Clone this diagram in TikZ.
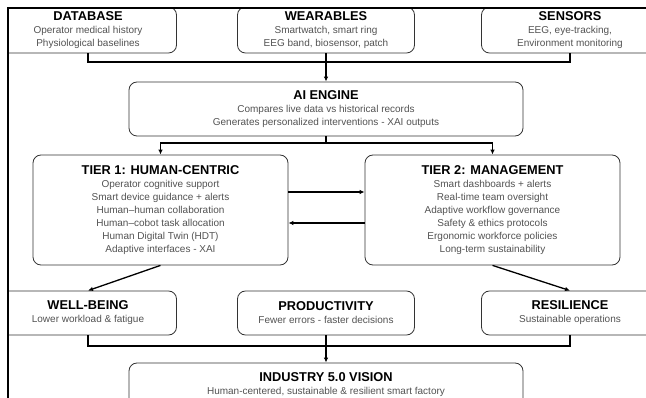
\documentclass[tikz,border=0pt]{standalone}
\usepackage{fontspec}
\setmainfont{Liberation Sans}
\usetikzlibrary{arrows.meta}

\newcommand{\boxtitle}[1]{{\fontsize{12.8}{14}\selectfont\bfseries\textcolor{black}{#1}}}

\begin{document}
\begin{tikzpicture}[x=1pt,y=-1pt,>={Latex[length=5pt,width=4.5pt]}]
\tikzstyle{every node}=[inner sep=0pt, align=center, text=black!68, font=\fontsize{10}{13}\selectfont]
\tikzstyle{box}=[draw=black!80, line width=0.8pt, rounded corners=8pt]
\tikzstyle{side}=[box, minimum width=177pt]
\tikzstyle{wide}=[box, minimum width=394pt]
\tikzstyle{tier}=[box, minimum width=255pt, minimum height=108pt]
\tikzstyle{link}=[line width=1.3pt, black]
\useasboundingbox (0,0) rectangle (646,398);
\begin{scope}
\clip (8,8) rectangle (646,398);
% sources
\draw (88,30) node (db) [side, minimum height=46pt] {\boxtitle{DATABASE}\\Operator medical history\\Physiological baselines};
\draw (326,30) node (wear) [side, minimum height=46pt] {\boxtitle{WEARABLES}\\Smartwatch, smart ring\\EEG band, biosensor, patch};
\draw (570,30) node (sens) [side, minimum height=46pt] {\boxtitle{SENSORS}\\EEG, eye-tracking,\\Environment monitoring};
% engine
\draw (326,109) node (ai) [wide, minimum height=54pt] {\boxtitle{AI ENGINE}\\Compares live data vs historical records\\Generates personalized interventions - XAI outputs};
% tiers
\draw (160.5,210) node (t1) [tier, minimum height=110pt] {\boxtitle{TIER 1: HUMAN-CENTRIC}\\Operator cognitive support\\Smart device guidance + alerts\\Human--human collaboration\\Human--cobot task allocation\\Human Digital Twin (HDT)\\Adaptive interfaces - XAI};
\draw (492.5,210) node (t2) [tier, minimum height=110pt] {\boxtitle{TIER 2: MANAGEMENT}\\Smart dashboards + alerts\\Real-time team oversight\\Adaptive workflow governance\\Safety \& ethics protocols\\Ergonomic workforce policies\\Long-term sustainability};
% outcomes
\draw (88,313) node (wb) [side, minimum height=44pt] {\boxtitle{WELL-BEING}\\Lower workload \& fatigue};
\draw (326,313) node (prod) [side, minimum height=44pt] {\boxtitle{PRODUCTIVITY}\\Fewer errors - faster decisions};
\draw (570,313) node (res) [side, minimum height=44pt] {\boxtitle{RESILIENCE}\\Sustainable operations};
\draw (326,385) node (ind) [wide, minimum height=44pt] {\boxtitle{INDUSTRY 5.0 VISION}\\Human-centered, sustainable \& resilient smart factory};
% buses
\coordinate (topbus) at (326,62);
\coordinate (midbus) at (326,143);
\coordinate (botbus) at (326,346);
\draw[link] (db.south) |- (topbus);
\draw[link] (sens.south) |- (topbus);
\draw[link,->] (wear.south) -- (ai.north);
\draw[link] (ai.south) -- (midbus);
\draw[link,->] (midbus) -| (t1.north);
\draw[link,->] (midbus) -| (t2.north);
\draw[link,->] ([yshift=18pt]t1.east) -- ([yshift=18pt]t2.west);
\draw[link,->] ([yshift=-13pt]t2.west) -- ([yshift=-13pt]t1.east);
\draw[link,->] (t1.south) -- (wb.north);
\draw[link,->] (t2.south) -- (res.north);
\draw[link] (wb.south) |- (botbus);
\draw[link] (res.south) |- (botbus);
\draw[link,->] (prod.south) -- (ind.north);
\end{scope}
% frame
\draw[line width=1.4pt] (646,8) -- (8,8) -- (8,398);
\end{tikzpicture}
\end{document}
